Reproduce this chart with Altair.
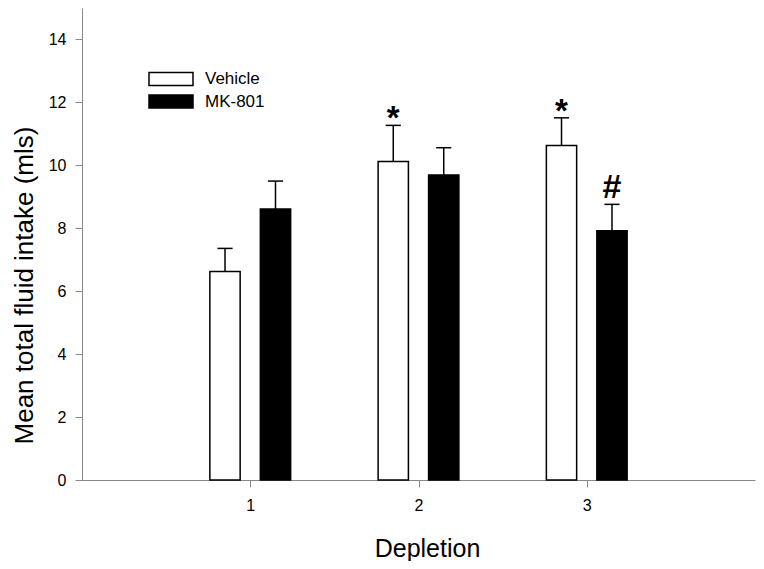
import altair as alt
import pandas as pd

# ---- data ----
groups = [1, 2, 3]
series_names = ["Vehicle", "MK-801"]
vehicle_mean = [6.63, 10.12, 10.63]
vehicle_sem = [0.73, 1.15, 0.88]
mk801_mean = [8.61, 9.69, 7.92]
mk801_sem = [0.89, 0.87, 0.84]
vehicle_sig = ["", "*", "*"]
mk801_sig = ["", "", "#"]

rows = []
for g, m, e, s in zip(groups, vehicle_mean, vehicle_sem, vehicle_sig):
    rows.append({"group": g, "series": "Vehicle", "value": m, "err": e, "sig": s})
for g, m, e, s in zip(groups, mk801_mean, mk801_sem, mk801_sig):
    rows.append({"group": g, "series": "MK-801", "value": m, "err": e, "sig": s})
df = pd.DataFrame(rows)

FONT = "Liberation Sans"

xscale = alt.Scale(domain=[0, 4], nice=False, zero=False)
yscale = alt.Scale(domain=[0, 15], nice=False)

base = alt.Chart(df).transform_calculate(
    xc="datum.group + (datum.series == 'Vehicle' ? -0.15 : 0.15)"
).transform_calculate(
    x0="datum.xc - 0.09",
    x1="datum.xc + 0.09",
    c0="datum.xc - 0.045",
    c1="datum.xc + 0.045",
    top="datum.value + datum.err",
    y0="0",
)

xaxis = alt.Axis(
    values=[1, 2, 3], format="d", title="Depletion", grid=False,
    tickSize=7, labelPadding=10, labelFontSize=16, titleFontSize=25,
    titleFontWeight="normal", titleX=345, titleY=76, titleBaseline="alphabetic",
    titleAlign="center",
)
yaxis = alt.Axis(
    values=[0, 2, 4, 6, 8, 10, 12, 14], title="Mean total fluid intake (mls)",
    grid=False, tickSize=7, labelPadding=9, labelFontSize=16, titleFontSize=26,
    titleFontWeight="normal", titleX=-45, titleY=277, titleAngle=270,
    titleBaseline="bottom", titleAlign="center",
)

bars = base.mark_bar(stroke="black", strokeWidth=1.5).encode(
    x=alt.X("x0:Q", scale=xscale, axis=xaxis),
    x2="x1:Q",
    y=alt.Y("value:Q", scale=yscale, axis=yaxis),
    y2="y0:Q",
    fill=alt.Fill(
        "series:N",
        scale=alt.Scale(domain=series_names, range=["white", "black"]),
        legend=alt.Legend(
            title=None, orient="none", legendX=77, legendY=59,
            symbolType="M-2,-0.6H2V0.6H-2Z", symbolSize=484,
            symbolStrokeColor="black", symbolStrokeWidth=1.5,
            labelFontSize=17, labelFont=FONT, labelColor="black",
            labelOffset=22, rowPadding=0.5,
        ),
    ),
)

stems = base.mark_rule(color="black", strokeWidth=1.5).encode(
    x="xc:Q", y="value:Q", y2="top:Q"
)
caps = base.mark_rule(color="black", strokeWidth=1.5).encode(
    x="c0:Q", x2="c1:Q", y="top:Q"
)
stars = base.transform_filter("datum.sig == '*'").mark_text(
    font=FONT, fontSize=33, fontWeight="bold", baseline="alphabetic", dy=4, color="black"
).encode(x="xc:Q", y="top:Q", text="sig:N")
hashes = base.transform_filter("datum.sig == '#'").mark_text(
    font=FONT, fontSize=34, fontWeight="bold", baseline="alphabetic", dy=-6, color="black"
).encode(x="xc:Q", y="top:Q", text="sig:N")

chart = alt.layer(bars, stems, caps, stars, hashes).properties(
    width=673, height=472,
    autosize=alt.AutoSizeParams(type="none"),
    padding={"left": 74, "top": 0, "right": 1, "bottom": 81},
    view=alt.ViewBackground(strokeOpacity=0, strokeWidth=0),
).configure_view(strokeWidth=0, strokeOpacity=0).configure_axis(
    domainColor="black", domainWidth=1.5, tickColor="black", tickWidth=1.5,
    labelColor="black", titleColor="black", labelFont=FONT, titleFont=FONT,
).configure(background="white")

chart.save("out.html", embed_options={"renderer": "svg", "actions": False})
